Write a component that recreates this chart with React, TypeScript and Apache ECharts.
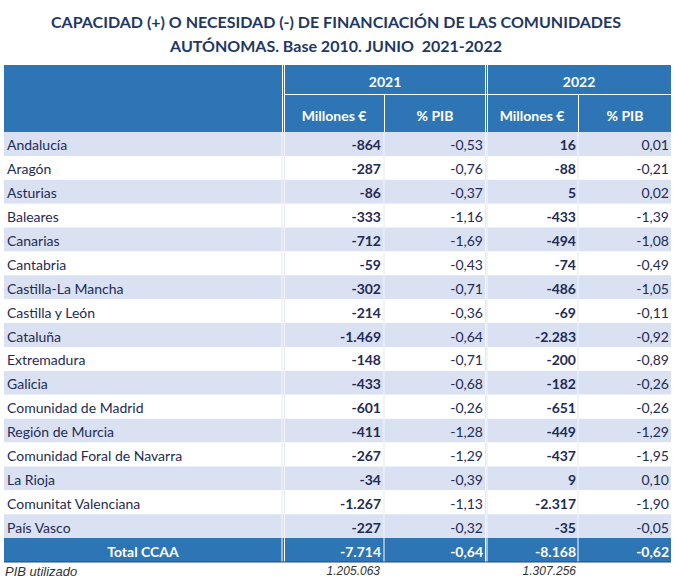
import React, { useEffect, useRef } from "react";
import * as echarts from "echarts";

const titleLines = [
  "CAPACIDAD (+) O NECESIDAD (-) DE FINANCIACIÓN DE LAS COMUNIDADES",
  "AUTÓNOMAS. Base 2010. JUNIO  2021-2022",
];
const years = ["2021", "2022"];
const subHeaders = ["Millones €", "% PIB"];

const regions = [
  "Andalucía",
  "Aragón",
  "Asturias",
  "Baleares",
  "Canarias",
  "Cantabria",
  "Castilla-La Mancha",
  "Castilla y León",
  "Cataluña",
  "Extremadura",
  "Galicia",
  "Comunidad de Madrid",
  "Región de Murcia",
  "Comunidad Foral de Navarra",
  "La Rioja",
  "Comunitat Valenciana",
  "País Vasco",
];
const mill2021 = [-864, -287, -86, -333, -712, -59, -302, -214, -1469, -148, -433, -601, -411, -267, -34, -1267, -227];
const pib2021 = [-0.53, -0.76, -0.37, -1.16, -1.69, -0.43, -0.71, -0.36, -0.64, -0.71, -0.68, -0.26, -1.28, -1.29, -0.39, -1.13, -0.32];
const mill2022 = [16, -88, 5, -433, -494, -74, -486, -69, -2283, -200, -182, -651, -449, -437, 9, -2317, -35];
const pib2022 = [0.01, -0.21, 0.02, -1.39, -1.08, -0.49, -1.05, -0.11, -0.92, -0.89, -0.26, -0.26, -1.29, -1.95, 0.1, -1.9, -0.05];

const totalLabel = "Total CCAA";
const totalMill = [-7714, -8168];
const totalPib = [-0.64, -0.62];

const pibLabel = "PIB utilizado";
const pibUsed = [1205063, 1307256];

const fmtInt = (v: number) =>
  (v < 0 ? "-" : "") + Math.abs(v).toString().replace(/\B(?=(\d{3})+(?!\d))/g, ".");
const fmtDec = (v: number) => (v < 0 ? "-" : "") + Math.abs(v).toFixed(2).replace(".", ",");

const BLUE = "#2E75B6";
const LAV = "#D9E1F2";
const NAVY = "#1F2B55";
const FONT = "Lato";

export default function App() {
  const ref = useRef<HTMLDivElement>(null);
  useEffect(() => {
    if (!ref.current) return;
    const chart = echarts.init(ref.current, undefined, { renderer: "svg" });

    const labels = [...regions, totalLabel];
    const m21 = [...mill2021, totalMill[0]];
    const p21 = [...pib2021, totalPib[0]];
    const m22 = [...mill2022, totalMill[1]];
    const p22 = [...pib2022, totalPib[1]];
    const nRows = labels.length;

    // column boundaries in grid units (px offset from grid left = 4)
    const W = 667;
    const cLab = 278, cLab2 = 280.5, c21 = 380, cY1 = 481.5, cY2 = 483, c22 = 574;

    const renderItem = (params: any, api: any) => {
      const i = params.dataIndex;
      const isTotal = i === nRows - 1;
      const tl = api.coord([0, i]);
      const br = api.coord([W, i + 1]);
      const x0 = tl[0], y0 = tl[1];
      const h = br[1] - y0;
      const cy = y0 + h / 2 + 1;
      const X = (u: number) => api.coord([u, i])[0];
      const bg = isTotal ? BLUE : i % 2 === 0 ? LAV : "#FFFFFF";
      const lineColor = isTotal ? "#FFFFFF" : i % 2 === 0 ? "#F4F6FB" : "#E6E9EF";
      const txt = isTotal ? "#FFFFFF" : NAVY;
      const vline = (u: number) => ({
        type: "line",
        shape: { x1: X(u), y1: y0, x2: X(u), y2: y0 + h },
        style: { stroke: lineColor, lineWidth: 1 },
      });
      const t = (text: string, x: number, align: string, bold: boolean) => ({
        type: "text",
        x,
        y: cy,
        style: {
          text,
          fill: txt,
          align,
          verticalAlign: "middle",
          fontFamily: FONT,
          fontSize: 14,
          fontWeight: bold ? "bold" : "normal",
        },
      });
      const children: any[] = [
        { type: "rect", shape: { x: x0, y: y0, width: br[0] - x0, height: h }, style: { fill: bg } },
        vline(cLab),
        vline(cLab2),
        vline(c21),
        vline(cY1),
        vline(cY2),
        vline(c22),
        isTotal ? t(labels[i], X(139), "center", true) : t(labels[i], X(3), "left", false),
        t(fmtInt(m21[i]), X(377), "right", true),
        t(fmtDec(p21[i]), X(479), "right", isTotal),
        t(fmtInt(m22[i]), X(572), "right", true),
        t(fmtDec(p22[i]), X(665), "right", isTotal),
      ];
      if (isTotal) {
        children.push({
          type: "line",
          shape: { x1: x0, y1: y0 + h, x2: br[0], y2: y0 + h },
          style: { stroke: "#1F4E79", lineWidth: 1 },
        });
      }
      return { type: "group", children };
    };

    const hdrText = (text: string, x: number, y: number) => ({
      type: "text",
      x,
      y,
      style: {
        text,
        fill: "#FFFFFF",
        align: "center",
        verticalAlign: "middle",
        fontFamily: FONT,
        fontSize: 14,
        fontWeight: "bold",
      },
    });
    const titleText = (text: string, y: number) => ({
      type: "text",
      x: 336,
      y,
      style: {
        text,
        fill: "#1F3864",
        align: "center",
        verticalAlign: "middle",
        fontFamily: FONT,
        fontSize: 16,
        fontWeight: "bold",
      },
    });
    const wl = (x1: number, y1: number, x2: number, y2: number) => ({
      type: "line",
      shape: { x1, y1, x2, y2 },
      style: { stroke: "#FFFFFF", lineWidth: 1 },
    });
    const foot = (text: string, x: number, align: string, size: number) => ({
      type: "text",
      x,
      y: 571,
      style: {
        text,
        fill: "#333333",
        align,
        verticalAlign: "middle",
        fontFamily: "Liberation Sans",
        fontSize: size,
        fontStyle: "italic",
      },
    });

    chart.setOption({
      animation: false,
      grid: { left: 4, right: 7, top: 132, bottom: 26 },
      xAxis: { type: "value", min: 0, max: W, show: false },
      yAxis: { type: "value", min: 0, max: nRows, inverse: true, show: false },
      series: [
        {
          type: "custom",
          clip: false,
          renderItem,
          encode: { x: 0, y: 1 },
          data: labels.map((_, i) => [0, i]),
        },
      ],
      graphic: [
        titleText(titleLines[0], 21),
        titleText(titleLines[1], 45),
        { type: "rect", shape: { x: 4, y: 65, width: 667, height: 67 }, style: { fill: BLUE } },
        wl(284.5, 94.5, 671, 94.5),
        wl(282.5, 65, 282.5, 132),
        wl(284.5, 65, 284.5, 132),
        wl(485.5, 65, 485.5, 132),
        wl(487.5, 65, 487.5, 132),
        wl(384.5, 94.5, 384.5, 132),
        wl(578.5, 94.5, 578.5, 132),
        hdrText(years[0], 385, 81),
        hdrText(years[1], 579, 81),
        hdrText(subHeaders[0], 334, 115),
        hdrText(subHeaders[1], 435, 115),
        hdrText(subHeaders[0], 532, 115),
        hdrText(subHeaders[1], 625, 115),
        {
          type: "polygon",
          shape: { points: [[385, 539], [389, 539], [385, 543]] },
          style: { fill: "#1E8F3A" },
        },
        foot(pibLabel, 5, "left", 13),
        foot(fmtInt(pibUsed[0]), 380, "right", 12),
        foot(fmtInt(pibUsed[1]), 576, "right", 12),
      ],
    });
    return () => chart.dispose();
  }, []);
  return (
    <div
      ref={ref}
      style={{ position: "fixed", left: 0, top: 0, width: 678, height: 588, background: "#FFFFFF" }}
    />
  );
}
